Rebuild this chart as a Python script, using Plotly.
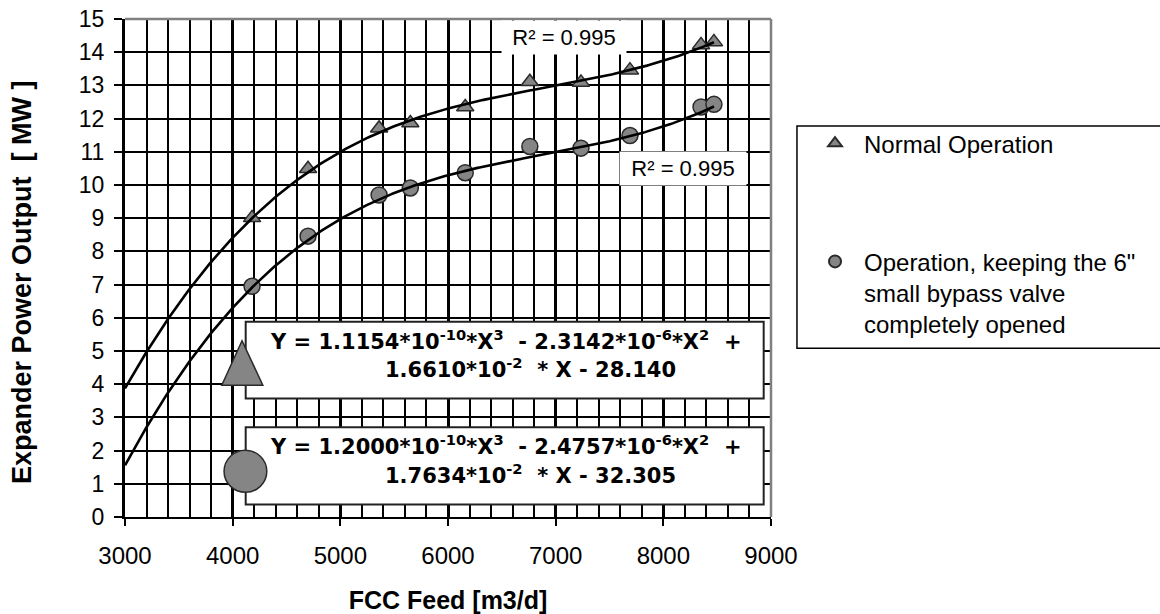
import numpy as np
import plotly.graph_objects as go

# ---------------- data ----------------
feed = [4180, 4700, 5360, 5650, 6160, 6760, 7235, 7690, 8350, 8470]
power_normal = [9.01, 10.49, 11.71, 11.87, 12.35, 13.11, 13.09, 13.46, 14.22, 14.31]
power_bypass = [6.95, 8.46, 9.70, 9.91, 10.37, 11.16, 11.11, 11.49, 12.35, 12.43]

# displayed cubic trendline coefficients (X^3, X^2, X, const)
coef_normal = [1.1154e-10, -2.3142e-6, 1.6610e-2, -28.140]
coef_bypass = [1.2000e-10, -2.4757e-6, 1.7634e-2, -32.305]
r2_normal = 0.995
r2_bypass = 0.995

name_normal = "Normal Operation"
name_bypass = 'Operation, keeping the 6"<br>small bypass valve<br>completely opened'

x_range = [3000, 9000]
y_range = [0, 15]
x_ticks = [3000, 4000, 5000, 6000, 7000, 8000, 9000]
y_ticks = list(range(0, 16))

x_title = "FCC Feed [m3/d]"
y_title = "Expander Power Output  [ MW ]"

ARIAL = "Liberation Sans, Arial, sans-serif"
VERD = "DejaVu Sans, Verdana, sans-serif"
MARK_FILL = "#858585"
MARK_LINE = "#2a2a2a"


def sci(c):
    m, e = f"{abs(c):.4e}".split("e")
    return m, str(int(e))


def eq_lines(coef):
    m3, e3 = sci(coef[0])
    m2, e2 = sci(coef[1])
    m1, e1 = sci(coef[2])
    s2 = "-" if coef[1] < 0 else "+"
    s0 = "-" if coef[3] < 0 else "+"
    l1 = (f"Y = {m3}*10<sup>{e3}</sup>*X<sup>3</sup>  {s2} {m2}*10<sup>{e2}</sup>*X<sup>2</sup>  +")
    l2 = f"{m1}*10<sup>{e1}</sup>  * X {s0} {abs(coef[3]):.3f}"
    return l1, l2


fig = go.Figure()

# data markers
fig.add_trace(go.Scatter(
    x=feed, y=power_normal, mode="markers", name=name_normal, legendgroup="n",
    marker=dict(symbol="triangle-up", size=15, color=MARK_FILL,
                line=dict(color=MARK_LINE, width=1.5)),
))
fig.add_trace(go.Scatter(
    x=feed, y=power_bypass, mode="markers", name=name_bypass, legendgroup="b",
    marker=dict(symbol="circle", size=16, color=MARK_FILL,
                line=dict(color=MARK_LINE, width=1.5)),
))

# trendlines (from the displayed polynomial coefficients)
tx = np.linspace(x_range[0], max(feed), 300)
for coef in (coef_normal, coef_bypass):
    fig.add_trace(go.Scatter(
        x=tx, y=np.polyval(coef, tx), mode="lines", showlegend=False,
        hoverinfo="skip", line=dict(color="black", width=2.6),
    ))

shapes = [
    # top / right plot border (grey)
    dict(type="line", xref="paper", yref="paper", x0=0, x1=1, y0=1, y1=1,
         line=dict(color="#808080", width=2.5)),
    dict(type="line", xref="paper", yref="paper", x0=1, x1=1, y0=0, y1=1,
         line=dict(color="#808080", width=2.5)),
    # equation box 1 + big triangle
    dict(type="rect", xref="x", yref="y", x0=4121, x1=8932, y0=3.57, y1=5.88,
         fillcolor="white", line=dict(color="#222", width=2)),
    dict(type="path", xref="x", yref="y",
         path="M 3899,3.97 L 4280,3.97 L 4087,5.31 Z",
         fillcolor=MARK_FILL, line=dict(color=MARK_LINE, width=1.5)),
    # equation box 2 + big circle
    dict(type="rect", xref="x", yref="y", x0=4121, x1=8932, y0=0.38, y1=2.70,
         fillcolor="white", line=dict(color="#222", width=2)),
    dict(type="circle", xref="x", yref="y", x0=3920, x1=4317, y0=0.745, y1=2.01,
         fillcolor=MARK_FILL, line=dict(color=MARK_LINE, width=1.5)),
    # legend frame
    dict(type="rect", xref="paper", yref="paper", x0=1.0402, x1=1.65,
         y0=0.3388, y1=0.7851, layer="below",
         fillcolor="white", line=dict(color="black", width=1.5)),
]

e1a, e1b = eq_lines(coef_normal)
e2a, e2b = eq_lines(coef_bypass)
eqfont = dict(family=VERD, size=21, color="black", weight="bold")
annotations = [
    dict(x=4332, y=5.32, xref="x", yref="y", text=e1a, showarrow=False,
         xanchor="left", yanchor="middle", font=eqfont),
    dict(x=5398, y=4.50, xref="x", yref="y", text=e1b, showarrow=False,
         xanchor="left", yanchor="middle", font=eqfont),
    dict(x=4332, y=2.18, xref="x", yref="y", text=e2a, showarrow=False,
         xanchor="left", yanchor="middle", font=eqfont),
    dict(x=5398, y=1.31, xref="x", yref="y", text=e2b, showarrow=False,
         xanchor="left", yanchor="middle", font=eqfont),
    dict(x=7075, y=14.45, xref="x", yref="y", text=f"R² = {r2_normal}",
         showarrow=False, bgcolor="white", width=124, height=33, borderpad=0,
         font=dict(family=ARIAL, size=22, color="black")),
    dict(x=8182, y=10.5, xref="x", yref="y", text=f"R² = {r2_bypass}",
         showarrow=False, bgcolor="white", width=126, height=33, borderpad=0,
         font=dict(family=ARIAL, size=22, color="black")),
    # y-axis title
    dict(x=-0.1594, y=0.4719, xref="paper", yref="paper", text=y_title,
         showarrow=False, textangle=-90, xanchor="center", yanchor="middle",
         font=dict(family=ARIAL, size=27, color="black", weight="bold")),
]

fig.update_layout(
    width=1160, height=614,
    margin=dict(l=125, r=389, t=19, b=97, autoexpand=False),
    paper_bgcolor="white", plot_bgcolor="white",
    font=dict(family=ARIAL, color="black"),
    shapes=shapes, annotations=annotations,
    legend=dict(
        x=1.0542, y=0.795, xanchor="left", yanchor="top",
        bgcolor="rgba(0,0,0,0)", borderwidth=0,
        font=dict(family=ARIAL, size=24, color="black"),
        traceorder="grouped", tracegroupgap=84, valign="top",
        itemsizing="constant", itemwidth=48,
    ),
    xaxis=dict(
        range=x_range, tickvals=x_ticks, ticks="outside", ticklen=7,
        tickwidth=1.5, tickcolor="black", ticklabelstandoff=9,
        ticklabeloverflow="allow", automargin=False,
        showline=True, linecolor="black", linewidth=2,
        showgrid=True, gridcolor="black", gridwidth=3, zeroline=False,
        minor=dict(dtick=200, tick0=3000, showgrid=True, gridcolor="black",
                   gridwidth=1.5, ticks=""),
        tickfont=dict(family=ARIAL, size=24, color="black"),
        title=dict(text=x_title, standoff=25,
                   font=dict(family=ARIAL, size=25, color="black", weight="bold")),
    ),
    yaxis=dict(
        range=y_range, tickvals=y_ticks, ticks="outside", ticklen=8,
        tickwidth=1.5, tickcolor="black", ticklabelstandoff=5,
        ticklabeloverflow="allow", automargin=False,
        showline=True, linecolor="black", linewidth=3,
        showgrid=True, gridcolor="black", gridwidth=2, zeroline=False,
        tickfont=dict(family=ARIAL, size=23, color="black"),
    ),
)

# remove the browser's default 8px page margin so the figure fills the window
fig.write_html("out.html", config={"displayModeBar": False},
               post_script="document.body.style.margin='0';")
